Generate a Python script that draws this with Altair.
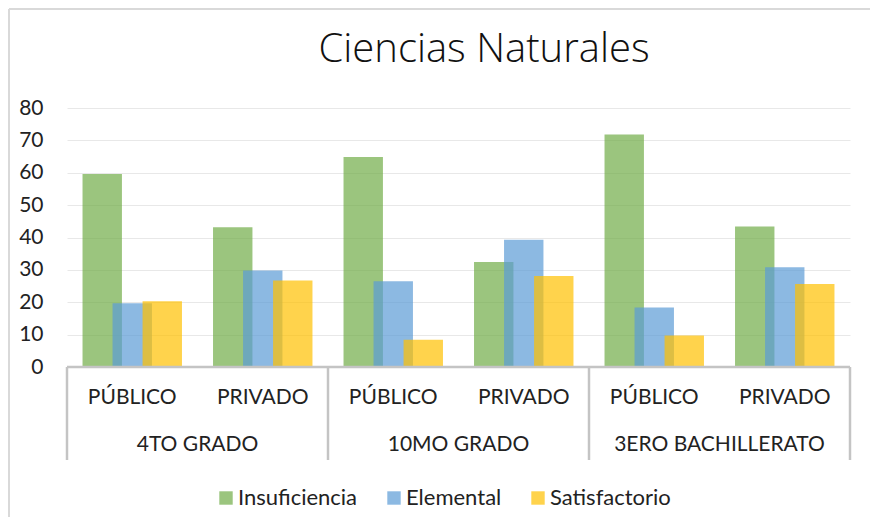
import altair as alt
import pandas as pd

# ---- data ----
grades = ["4TO GRADO", "10MO GRADO", "3ERO BACHILLERATO"]
sectors = ["PÚBLICO", "PRIVADO"]
series = ["Insuficiencia", "Elemental", "Satisfactorio"]
colors = ["#70AD47", "#5B9BD5", "#FFC000"]
insuficiencia = [59.6, 43.2, 64.9, 32.4, 71.8, 43.4]
elemental = [19.7, 29.8, 26.5, 39.3, 18.4, 30.8]
satisfactorio = [20.3, 26.7, 8.4, 28.1, 9.7, 25.6]
y_ticks = [0, 10, 20, 30, 40, 50, 60, 70, 80]
title_text = "Ciencias Naturales"

FONT = "Lato"
TXT = "#222222"
STEP = 0.23   # offset between overlapping bars (band units)
HALF = 0.151  # half bar width (band units)
n_cat = len(grades) * len(sectors)
XDOM = [-0.5, n_cat - 0.5]

rows = []
for s_i, (name, vals) in enumerate(zip(series, [insuficiencia, elemental, satisfactorio])):
    for c_i, v in enumerate(vals):
        c = c_i + (s_i - 1) * STEP
        rows.append({"series": name, "value": v, "x0": c - HALF, "x1": c + HALF})
bars_df = pd.DataFrame(rows)

sub_df = pd.DataFrame({
    "idx": list(range(n_cat)),
    "label": [s for g in grades for s in sectors],
})
grp_df = pd.DataFrame({
    "idx": [i * len(sectors) + (len(sectors) - 1) / 2 for i in range(len(grades))],
    "label": grades,
})
sep_df = pd.DataFrame({"xs": [i * len(sectors) - 0.5 for i in range(len(grades) + 1)]})
base_df = pd.DataFrame({"x0": [XDOM[0]], "x1": [XDOM[1]]})

xscale = alt.Scale(domain=XDOM, nice=False, zero=False, padding=0)

bars = alt.Chart(bars_df).mark_bar(opacity=0.7).encode(
    x=alt.X("x0:Q", scale=xscale, axis=None),
    x2="x1:Q",
    y=alt.Y("value:Q", stack=None,
            scale=alt.Scale(domain=[0, 80], nice=False, padding=0),
            axis=alt.Axis(values=y_ticks, title=None, domain=False, ticks=False,
                          grid=True, gridColor="#E8E8E8", gridWidth=1,
                          labelFontSize=21, labelFont=FONT, labelColor=TXT,
                          labelPadding=24)),
    y2=alt.datum(0),
    color=alt.Color("series:N", sort=series,
                    scale=alt.Scale(domain=series, range=colors),
                    legend=alt.Legend(orient="none", legendX=148, legendY=379,
                                      direction="horizontal", title=None,
                                      symbolType="square", symbolSize=180,
                                      symbolOpacity=0.7, symbolStrokeWidth=0,
                                      labelFontSize=22, labelFont=FONT,
                                      labelColor=TXT, columnPadding=25,
                                      labelOffset=1)),
)

sub_labels = alt.Chart(sub_df).mark_text(fontSize=21, font=FONT, color=TXT,
                                         baseline="middle", align="center").encode(
    x=alt.X("idx:Q", scale=xscale, axis=None),
    y=alt.value(290),
    text="label:N",
)
grp_labels = alt.Chart(grp_df).mark_text(fontSize=21, font=FONT, color=TXT,
                                         baseline="middle", align="center").encode(
    x=alt.X("idx:Q", scale=xscale, axis=None),
    y=alt.value(337),
    text="label:N",
)
seps = alt.Chart(sep_df).mark_rule(color="#C4C4C4", strokeWidth=2.5).encode(
    x=alt.X("xs:Q", scale=xscale, axis=None),
    y=alt.value(259),
    y2=alt.value(352),
)
base_line = alt.Chart(base_df).mark_rule(color="#C4C4C4", strokeWidth=2.5).encode(
    x=alt.X("x0:Q", scale=xscale, axis=None),
    x2="x1:Q",
    y=alt.value(259),
)
title = alt.Chart(pd.DataFrame({"t": [title_text]})).mark_text(
    fontSize=40, font="Open Sans", fontWeight=300, color="#111111",
    baseline="alphabetic", align="center").encode(
    x=alt.value(417), y=alt.value(-46), text="t:N")

border_l = alt.Chart(base_df).mark_rule(color="#D9D9D9", strokeWidth=2).encode(
    x=alt.value(-58), y=alt.value(-99), y2=alt.value(420))
border_t = alt.Chart(base_df).mark_rule(color="#D9D9D9", strokeWidth=2).encode(
    x=alt.value(-58), x2=alt.value(805), y=alt.value(-99))

chart = alt.layer(border_l, border_t, bars, base_line, seps, sub_labels, grp_labels, title).properties(
    width=783, height=259,
    padding={"left": 59, "top": 100, "right": 20, "bottom": 150},
    autosize=alt.AutoSizeParams(type="none"),
    background="white",
).configure_view(stroke=None)

chart.save("out.html", embed_options={"renderer": "svg", "actions": False})
